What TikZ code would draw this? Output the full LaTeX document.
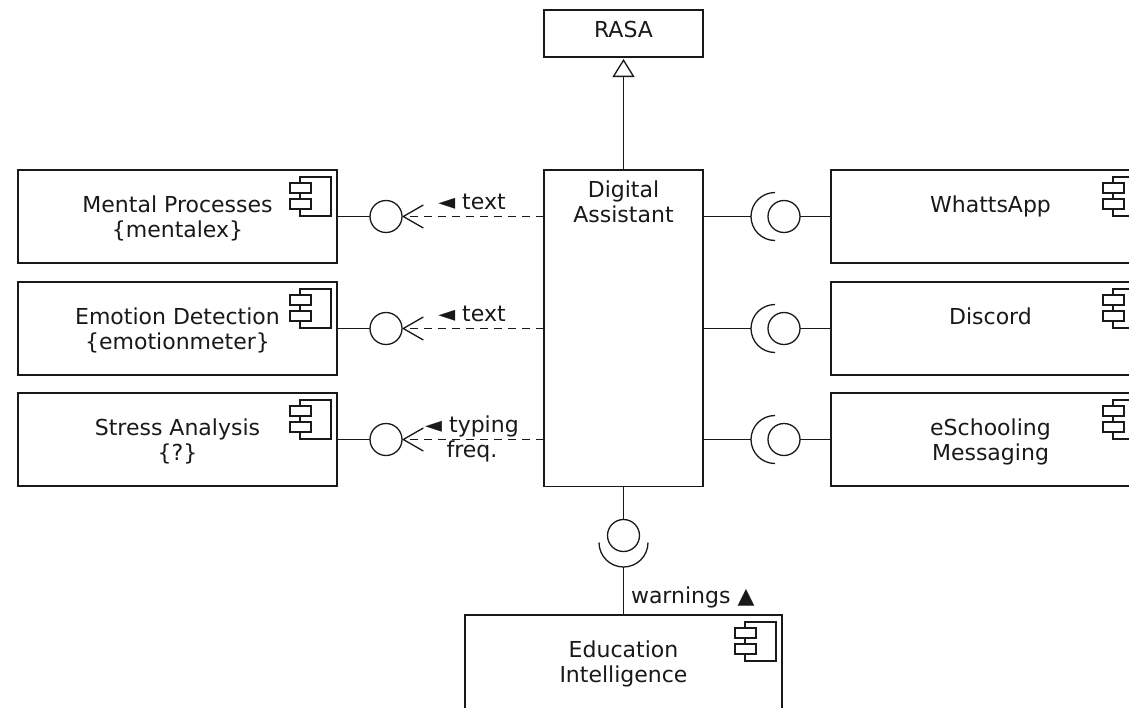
\documentclass[tikz,border=0pt]{standalone}
\usepackage{fontspec}
\setmainfont{DejaVu Sans}
\usetikzlibrary{arrows.meta,calc}
\newcommand{\twolines}[2]{\begin{tabular}[t]{@{}c@{}}#1\\#2\end{tabular}}
\tikzset{
  every node/.style={font=\fontsize{22}{25.5}\selectfont, text=black!90, inner sep=0pt, outer sep=0pt},
  line/.style={draw=black!90, line width=1.3pt},
  box/.style={line, rectangle, fill=white, anchor=north west},
  compbox/.style={box, minimum width=319pt, minimum height=93pt},
  circ/.style={line, circle, minimum size=32pt, fill=white},
  dep/.style={line, dash pattern=on 8pt off 6pt, -{Straight Barb[length=20pt, width=23pt, line width=1.3pt]}},
  lbl/.style={anchor=base},
  comp/.pic={
    \draw[line, line width=1.1pt] (-37,7) rectangle (-6,46);
    \draw[line, line width=1.1pt, fill=white] (-47,13) rectangle (-26,23);
    \draw[line, line width=1.1pt, fill=white] (-47,29) rectangle (-26,39);
  }
}
\begin{document}
\begin{tikzpicture}[x=1pt,y=-1pt]
\useasboundingbox (0,0) rectangle (1129,707);
\fill[white] (0,0) rectangle (1129,707);
\clip (0,0) rectangle (1129,707);

% central boxes
\node[box, minimum width=159pt, minimum height=47pt] (rasa) at (544,10) {};
\node[lbl] (rasat) at ($(rasa.north)+(0,27)$) {RASA};
\node[box, minimum width=159pt, minimum height=316.5pt] (da) at (544,170) {};
\node[lbl] (dat) at ($(da.north)+(0,27)$) {\twolines{Digital}{Assistant}};

% left components
\node[compbox] (mp) at (18,170) {};
\node[compbox] (ed) at (18,282) {};
\node[compbox] (sa) at (18,393) {};
% right components
\node[compbox] (wa) at (831,170) {};
\node[compbox] (dc) at (831,282) {};
\node[compbox] (es) at (831,393) {};
% bottom component
\node[box, minimum width=317pt, minimum height=125pt] (ei) at (465,615) {};

\foreach \b in {mp,ed,sa,wa,dc,es,ei} { \pic at (\b.north east) {comp}; }

\node[lbl] (mpt) at ($(mp.north)+(0,42)$) {\twolines{Mental Processes}{\{mentalex\}}};
\node[lbl] (edt) at ($(ed.north)+(0,42)$) {\twolines{Emotion Detection}{\{emotionmeter\}}};
\node[lbl] (sat) at ($(sa.north)+(0,42)$) {\twolines{Stress Analysis}{\{?\}}};
\node[lbl] (wat) at ($(wa.north)+(0,42)$) {WhattsApp};
\node[lbl] (dct) at ($(dc.north)+(0,42)$) {Discord};
\node[lbl] (est) at ($(es.north)+(0,42)$) {\twolines{eSchooling}{Messaging}};
\node[lbl] (eit) at ($(ei.north)+(0,42)$) {\twolines{Education}{Intelligence}};

% generalization to RASA
\draw[line, -{Triangle[open, length=18pt, width=22pt, line width=1.3pt]}] (da.north) -- ([yshift=-2pt]rasa.south);

% left provided interfaces
\node[circ] (c1) at (386,216.5) {};
\node[circ] (c2) at (386,328.5) {};
\node[circ] (c3) at (386,439.5) {};
\draw[line] (mp.east) -- (c1.west);
\draw[line] (ed.east) -- (c2.west);
\draw[line] (sa.east) -- (c3.west);
\draw[dep] (da.west |- c1) -- (c1.east);
\draw[dep] (da.west |- c2) -- (c2.east);
\draw[dep] (da.west |- c3) -- (c3.east);
\node[lbl] (l1) at (472,209) {◄ text};
\node[lbl] (l2) at (472,321) {◄ text};
\node[lbl] (l3) at (472,432) {\twolines{◄ typing}{freq.}};

% right required/provided interfaces
\foreach \r/\b/\n in {216.5/wa/1, 328.5/dc/2, 439.5/es/3} {
  \coordinate (s\n) at (751,\r);
  \draw[line] (da.east |- s\n) -- (s\n);
  \draw[line] (775,\r+24) arc[start angle=90, end angle=270, radius=24];
  \node[circ] (p\n) at (784,\r) {};
  \draw[line] (p\n.east) -- (\b.west);
}

% bottom interface
\node[circ] (cb) at (623.5,535.5) {};
\draw[line] (da.south) -- (cb.north);
\draw[line] (648,542.5) arc[start angle=0, end angle=180, radius=24.5];
\coordinate (sb) at (623.5,567);
\draw[line] (sb) -- (ei.north);
\node[anchor=base west] (lw) at (631,603) {warnings ▲};
\end{tikzpicture}
\end{document}
